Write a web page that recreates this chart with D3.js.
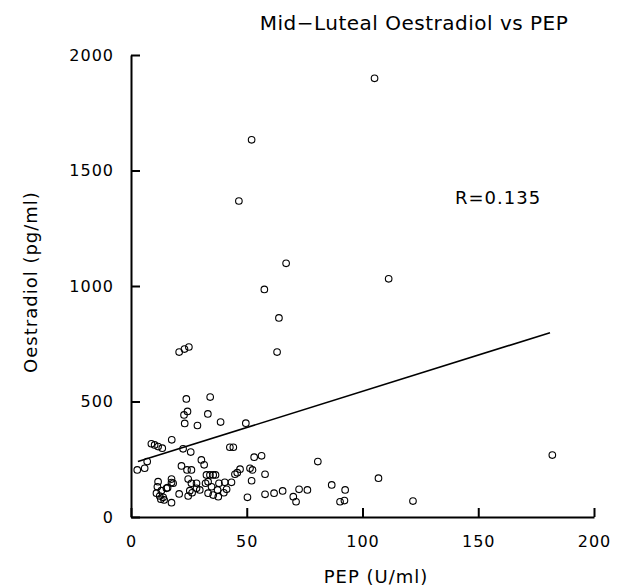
<!DOCTYPE html>
<html>
<head>
<meta charset="utf-8">
<script src="https://cdn.jsdelivr.net/npm/d3@7/dist/d3.min.js"></script>
<style>
  html, body { margin: 0; padding: 0; background: #fff; }
  svg { display: block; }
  text { font-family: "DejaVu Sans", sans-serif; fill: #000; }
</style>
</head>
<body>
<svg id="chart" width="619" height="587"></svg>
<script>
const title = "Mid\u2212Luteal Oestradiol vs PEP";
const xLabel = "PEP (U/ml)";
const yLabel = "Oestradiol (pg/ml)";
const rLabel = "R=0.135";
const xTicks = [0, 50, 100, 150, 200];
const yTicks = [0, 500, 1000, 1500, 2000];

const pep = [
  105.2, 52.1, 46.6, 67.0, 111.3, 57.6, 63.9, 63.1, 20.8, 23.1, 25.0,
  23.9, 34.2, 24.4, 22.9, 33.2, 23.2, 28.7, 38.7, 49.6, 17.6,
  8.8, 10.2, 11.7, 13.5, 42.7, 44.2, 22.5, 25.8, 53.2, 56.4, 7.0, 80.7,
  2.7, 5.9, 21.8, 24.2, 26.1, 30.4, 31.6, 24.7, 26.1, 28.3,
  32.6, 34.1, 35.5, 36.5, 33.3, 32.2, 38.0, 40.5, 43.4, 34.8, 37.4, 40.1, 41.3,
  17.5, 17.5, 11.7, 11.4, 15.3, 13.1, 11.0, 12.4, 13.9, 12.9, 14.3, 17.5,
  20.8, 25.4, 26.4, 24.7, 28.3, 29.7, 37.7, 33.3, 35.5,
  44.9, 45.9, 47.1, 51.4, 52.5, 57.9, 52.1, 50.3, 57.9, 61.8, 65.5,
  72.6, 76.2, 70.1, 71.3, 86.7, 92.5, 92.2, 90.3, 106.9, 121.8, 182.0,
  15.8, 18.2
];
const oestradiol = [
  1899, 1633, 1368, 1098, 1031, 985, 862, 714, 714, 727, 736,
  511, 519, 457, 442, 446, 405, 396, 411, 406, 334,
  317, 312, 305, 298, 302, 302, 295, 281, 259, 265, 240, 240,
  204, 211, 221, 204, 204, 247, 226, 164, 146, 146,
  182, 182, 182, 182, 153, 146, 146, 150, 150, 131, 117, 105, 120,
  164, 149, 153, 131, 124, 114, 103, 91, 85, 77, 74, 62,
  100, 114, 105, 91, 124, 117, 88, 103, 95,
  185, 192, 207, 211, 204, 185, 157, 85, 98, 103, 113,
  120, 117, 88, 66, 139, 117, 71, 66, 168, 69, 268,
  127, 146
];
// regression line end points
const fitX = [3, 181];
const fitY = [240, 798];

const svg = d3.select("#chart");
svg.append("rect").attr("width", 619).attr("height", 587).attr("fill", "#fff");

const x = d3.scaleLinear().domain([0, 200]).range([131, 594]);
const y = d3.scaleLinear().domain([0, 2000]).range([517, 55]);

// axes
const xAxis = d3.axisBottom(x).tickValues(xTicks).tickFormat(d3.format("d"))
  .tickSize(-9).tickPadding(19).tickSizeOuter(0);
const yAxis = d3.axisLeft(y).tickValues(yTicks).tickFormat(d3.format("d"))
  .tickSize(-9).tickPadding(17).tickSizeOuter(0);

const gx = svg.append("g").attr("transform", `translate(0,${y(0)})`).call(xAxis);
const gy = svg.append("g").attr("transform", `translate(${x(0)},0)`).call(yAxis);

[gx, gy].forEach(g => {
  g.select(".domain").attr("stroke", "#000").attr("stroke-width", 2);
  g.selectAll(".tick line").attr("stroke", "#000").attr("stroke-width", 2);
  g.selectAll(".tick text").attr("font-family", "DejaVu Sans, sans-serif")
    .attr("font-size", 16).attr("fill", "#000").style("letter-spacing", "1px");
});

// regression line
svg.append("line")
  .attr("x1", x(fitX[0])).attr("y1", y(fitY[0]))
  .attr("x2", x(fitX[1])).attr("y2", y(fitY[1]))
  .attr("stroke", "#000").attr("stroke-width", 1.6);

// points
const pts = pep.map((p, i) => ({ p, o: oestradiol[i] }));
svg.append("g").selectAll("circle").data(pts).join("circle")
  .attr("cx", d => x(d.p)).attr("cy", d => y(d.o)).attr("r", 3.3)
  .attr("fill", "none").attr("stroke", "#000").attr("stroke-width", 1.1);

// texts
svg.append("text").attr("x", 414).attr("y", 30).attr("text-anchor", "middle")
  .attr("font-size", 20).style("letter-spacing", "0.5px").text(title);
svg.append("text").attr("x", 376).attr("y", 583).attr("text-anchor", "middle")
  .attr("font-size", 18).style("letter-spacing", "1px").text(xLabel);
svg.append("text").attr("transform", "translate(37,282) rotate(-90)").attr("text-anchor", "middle")
  .attr("font-size", 18).style("letter-spacing", "1px").text(yLabel);
svg.append("text").attr("x", 455).attr("y", 204)
  .attr("font-size", 18).style("letter-spacing", "1px").text(rLabel);
</script>
</body>
</html>
